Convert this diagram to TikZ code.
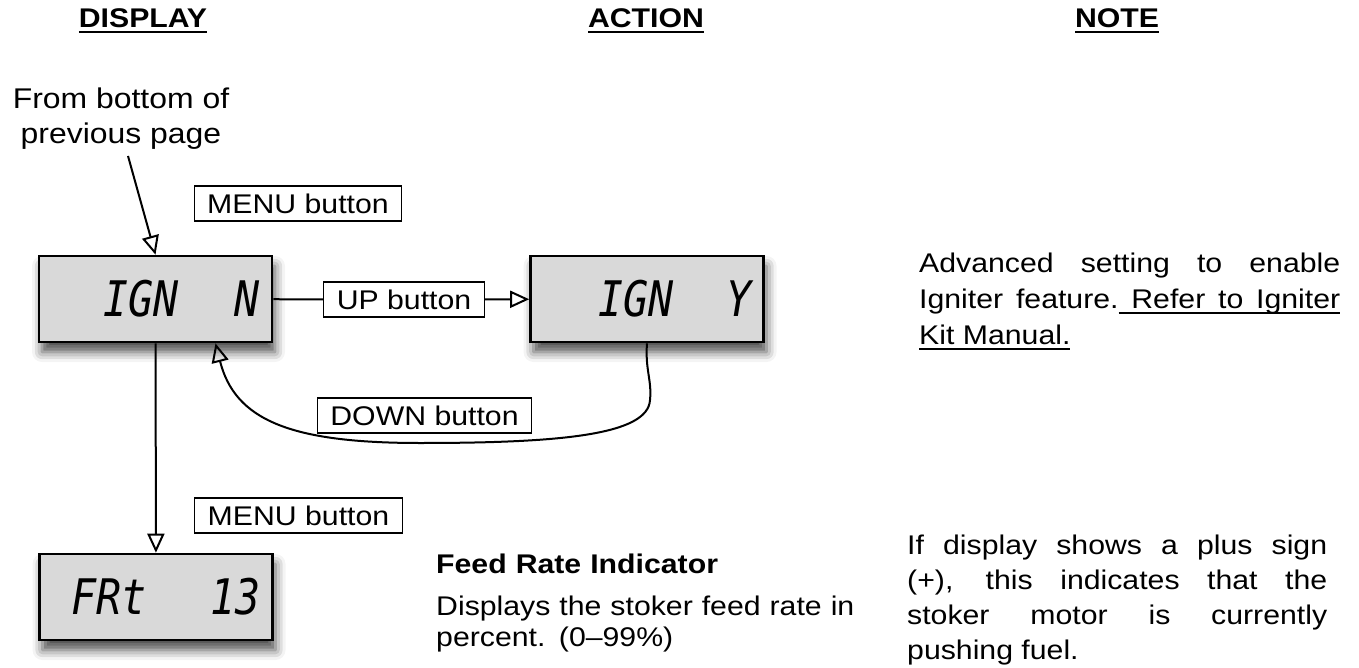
\documentclass[tikz,border=0pt]{standalone}
\usepackage{fontspec}
\setmainfont{Liberation Sans}[FakeStretch=1.12]
\newfontfamily\segfont{DejaVu Sans Mono}[FakeStretch=0.85]
\newsavebox\ulsave
\newcommand{\ulw}[1]{\sbox\ulsave{#1}\rlap{\vrule height -3.5pt depth 5pt width \wd\ulsave}\usebox\ulsave}
\newcommand{\uls}{\leaders\hrule height -3.5pt depth 5pt\hskip\fontdimen2\font plus\fontdimen3\font minus\fontdimen4\font\relax}
\usetikzlibrary{arrows.meta,shadows.blur,positioning}
\tikzset
{
	lcdnode/.style    = {rectangle, draw=black, line width=2.6pt, fill=black!15, minimum width=233pt, minimum height=86pt, inner xsep=12pt, text width=209pt, align=left, font=\segfont\itshape\fontsize{49}{49}\selectfont, blur shadow={shadow xshift=3pt, shadow yshift=-10pt, shadow blur radius=10pt, shadow opacity=70}},
	buttonnode/.style = {rectangle, draw=black, line width=1.3pt, fill=white, inner xsep=13pt, minimum height=35pt, font=\fontsize{27}{32}\selectfont},
	headnode/.style   = {inner sep=0pt, anchor=base, font=\bfseries\fontsize{27}{32}\selectfont},
	notetext/.style   = {inner sep=0pt, anchor=north west, align=justify},
	link/.style       = {line width=2pt},
	flow/.style       = {line width=2pt, -{Triangle[open, length=19pt, width=17pt]}}
}

\begin{document}
\begin{tikzpicture}[x=1pt, y=-1pt]
\useasboundingbox (0,0) rectangle (1359,668);

\node[headnode] (disphead) at (143,28) {\ulw{DISPLAY}};
\node[headnode] (acthead) at (646,28) {\ulw{ACTION}};
\node[headnode] (notehead) at (1117,28) {\ulw{NOTE}};

\node[inner sep=0pt, align=center, anchor=north, font=\fontsize{28.5}{35}\selectfont] (prevpage) at (121,88) {From bottom of\\previous page};

\node[lcdnode] (ignN) at (155.5,299) {\hspace*{52pt}IGN\hfill N};
\node[lcdnode] (ignY) at (647,299) {\hspace*{56pt}IGN\hfill Y};
\node[lcdnode] (frt) at (156,597) {\hspace*{20pt}FRt\hfill 13};

\node[buttonnode] (menuA) at (298,203.5) {MENU button};
\node[buttonnode] (up) at (404,299.5) {UP button};
\node[buttonnode] (down) at (424.5,415.5) {DOWN button};
\node[buttonnode] (menuB) at (298.5,515.5) {MENU button};

\draw[flow] ([xshift=7pt,yshift=-6pt]prevpage.south) -- (ignN.north);
\draw[link] (ignN) -- (up);
\draw[flow] (up) -- (ignY);
\draw[flow] (ignN) -- (frt);
\draw[flow] (ignY.south) .. controls (645,370) and (652,380) .. (650,400)
  .. controls (648,435) and (560,443) .. (420,443)
  .. controls (290,443) and (235,420) .. ([xshift=60pt]ignN.south);

\node[notetext, align=left, text width=440pt, font=\fontsize{27}{31}\selectfont] (feednote) at (436,554)
  {\textbf{Feed Rate Indicator}\\[11pt]Displays the stoker feed rate in\\percent. (0--99\%)};
\node[notetext, text width=421pt, font=\fontsize{27}{36}\selectfont] (ignnote) at (919,253)
  {Advanced setting to enable\linebreak Igniter feature.\uls\ulw{Refer}\uls\ulw{to}\uls\ulw{Igniter}\linebreak\ulw{Kit}\uls\ulw{Manual.}};
\node[notetext, text width=420pt, font=\fontsize{27}{35}\selectfont] (plusnote) at (907,535)
  {If display shows a plus sign\linebreak (+), this indicates that the\linebreak stoker motor is currently\linebreak pushing fuel.};
\end{tikzpicture}
\end{document}
